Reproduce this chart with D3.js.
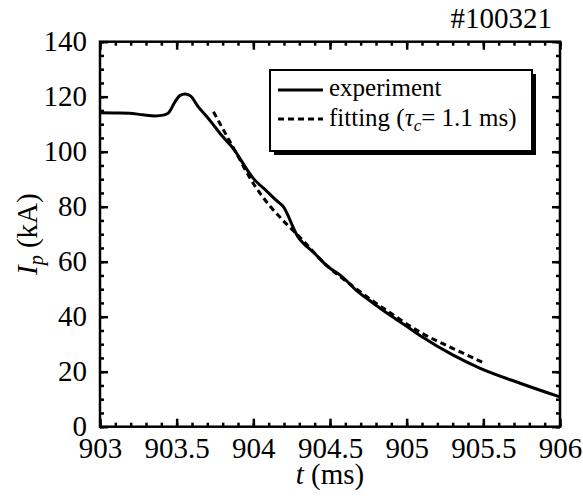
<!DOCTYPE html>
<html>
<head>
<meta charset="utf-8">
<script src="https://cdn.jsdelivr.net/npm/d3@7"></script>
<style>
  body { margin: 0; background: #fff; }
</style>
</head>
<body>
<svg class="ip_plot"></svg>
<script>
// experiment trace (t in ms, Ip in kA)
var expT = [903.00, 903.10, 903.19, 903.28, 903.36, 903.42, 903.445, 903.49, 903.52, 903.555,
            903.59, 903.64, 903.70, 903.75, 903.80, 903.86, 904.00, 904.09, 904.16, 904.19,
            904.29, 904.40, 904.48, 904.58, 904.67, 904.78, 904.89, 905.00, 905.10, 905.30,
            905.48, 905.74, 906.00];
var expI = [114.2, 114.1, 114.0, 113.4, 113.0, 113.4, 114.0, 118.2, 120.4, 121.0,
            120.3, 116.4, 112.5, 109.0, 105.5, 101.8, 90.3, 85.5, 81.8, 80.4,
            69.1, 63.0, 58.5, 54.5, 49.7, 45.0, 40.6, 36.5, 32.7, 26.1,
            21.2, 15.8, 10.8];

// fitted decay
var fitT = [903.74, 903.86, 904.01, 904.10, 904.17, 904.23, 904.29, 904.46, 904.67, 904.89, 905.09, 905.30, 905.50];
var fitI = [114.5, 102.4, 87.6, 80.8, 76.4, 72.9, 69.7, 59.6, 50.2, 41.5, 34.3, 28.5, 23.3];

var xTicks = [903, 903.5, 904, 904.5, 905, 905.5, 906];
var yTicks = [0, 20, 40, 60, 80, 100, 120, 140];
var shotLabel = "#100321";

var FONT = "'Liberation Serif', 'Times New Roman', serif";

var W = 583, H = 500;
var margin = {top: 41.7, right: 23, bottom: 73.3, left: 100},
    width  = W - margin.left - margin.right,
    height = H - margin.top - margin.bottom;

var svg = d3.select("svg.ip_plot")
  .attr("width", W)
  .attr("height", H)
  .style("font-family", FONT);

var g = svg.append("g")
  .attr("transform", `translate(${margin.left},${margin.top})`);

var x = d3.scaleLinear().domain([903, 906]).range([0, width]);
var y = d3.scaleLinear().domain([0, 140]).range([height, 0]);

var xMinor = d3.range(9030, 9061, 1).map(d => d / 10);
var yMinor = d3.range(0, 141, 5);

function styleAxis(sel) {
  sel.attr("font-family", FONT).attr("font-size", 29);
  sel.select(".domain").remove();
  sel.selectAll(".tick line").attr("stroke", "#000").attr("stroke-width", 2.5);
  sel.selectAll("text").attr("fill", "#000").style("font-family", FONT).style("font-size", "29px");
}

// minor ticks
g.append("g").attr("transform", `translate(0,${height})`)
  .call(d3.axisBottom(x).tickValues(xMinor).tickSize(-4).tickFormat(""))
  .call(styleAxis);
g.append("g")
  .call(d3.axisTop(x).tickValues(xMinor).tickSize(-4).tickFormat(""))
  .call(styleAxis);
g.append("g")
  .call(d3.axisLeft(y).tickValues(yMinor).tickSize(-4).tickFormat(""))
  .call(styleAxis);
g.append("g").attr("transform", `translate(${width},0)`)
  .call(d3.axisRight(y).tickValues(yMinor).tickSize(-4).tickFormat(""))
  .call(styleAxis);

// major ticks + labels
g.append("g").attr("transform", `translate(0,${height})`)
  .call(d3.axisBottom(x).tickValues(xTicks).tickSize(-8).tickPadding(11).tickFormat(d3.format("")))
  .call(styleAxis);
g.append("g")
  .call(d3.axisTop(x).tickValues(xTicks).tickSize(-8).tickFormat(""))
  .call(styleAxis);
g.append("g")
  .call(d3.axisLeft(y).tickValues(yTicks).tickSize(-8).tickPadding(13).tickFormat(d3.format("d")))
  .call(styleAxis);
g.append("g").attr("transform", `translate(${width},0)`)
  .call(d3.axisRight(y).tickValues(yTicks).tickSize(-8).tickFormat(""))
  .call(styleAxis);

// frame
g.append("rect")
  .attr("width", width).attr("height", height)
  .attr("fill", "none").attr("stroke", "#000").attr("stroke-width", 2.5);

// curves
var line = d3.line()
  .x(d => x(d[0])).y(d => y(d[1]))
  .curve(d3.curveMonotoneX);

g.append("path")
  .datum(fitT.map((t, i) => [t, fitI[i]]))
  .attr("d", line)
  .attr("fill", "none").attr("stroke", "#000")
  .attr("stroke-width", 3).attr("stroke-dasharray", "6,4");

g.append("path")
  .datum(expT.map((t, i) => [t, expI[i]]))
  .attr("d", line)
  .attr("fill", "none").attr("stroke", "#000")
  .attr("stroke-width", 3).attr("stroke-linejoin", "round");

// axis titles
svg.append("text")
  .attr("x", margin.left + width / 2).attr("y", 484)
  .attr("text-anchor", "middle").style("font-size", "29px")
  .call(t => {
    t.append("tspan").style("font-style", "italic").text("t");
    t.append("tspan").text(" (ms)");
  });

svg.append("text")
  .attr("transform", `translate(37,${margin.top + height / 2}) rotate(-90)`)
  .attr("text-anchor", "middle").style("font-size", "29px")
  .call(t => {
    t.append("tspan").style("font-style", "italic").text("I");
    t.append("tspan").style("font-style", "italic").style("font-size", "20px").attr("dy", 6).text("p");
    t.append("tspan").attr("dy", -6).text(" (kA)");
  });

// shot number
svg.append("text")
  .attr("x", 552).attr("y", 28)
  .attr("text-anchor", "end").style("font-size", "29px")
  .text(shotLabel);

// legend
var lg = svg.append("g");
lg.append("rect")
  .attr("x", 274).attr("y", 74).attr("width", 262).attr("height", 81)
  .attr("fill", "#000");
lg.append("rect")
  .attr("x", 270).attr("y", 70).attr("width", 262).attr("height", 81)
  .attr("fill", "#fff").attr("stroke", "#000").attr("stroke-width", 2);

lg.append("line").attr("x1", 278).attr("x2", 323).attr("y1", 90).attr("y2", 90)
  .attr("stroke", "#000").attr("stroke-width", 3);
lg.append("line").attr("x1", 278).attr("x2", 323).attr("y1", 119).attr("y2", 119)
  .attr("stroke", "#000").attr("stroke-width", 3).attr("stroke-dasharray", "6,4");

lg.append("text").attr("x", 329).attr("y", 96).style("font-size", "25px").text("experiment");
lg.append("text").attr("x", 329).attr("y", 126).style("font-size", "25px")
  .call(t => {
    t.append("tspan").text("fitting (");
    t.append("tspan").style("font-style", "italic").text("τ");
    t.append("tspan").style("font-style", "italic").style("font-size", "17px").attr("dy", 5).text("c");
    t.append("tspan").attr("dy", -5).text("= 1.1 ms)");
  });
</script>
</body>
</html>
